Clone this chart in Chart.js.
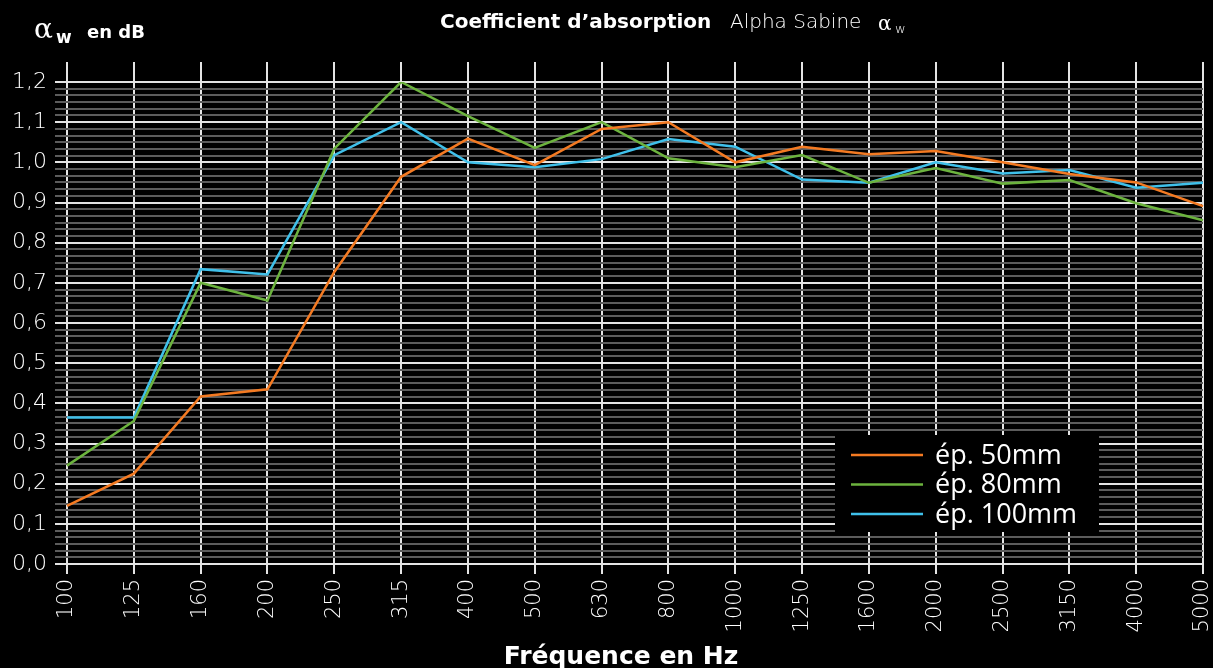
<!DOCTYPE html>
<html>
<head>
<meta charset="utf-8">
<script src="https://cdn.jsdelivr.net/npm/chart.js@4/dist/chart.umd.min.js"></script>
<style>
  body { margin: 0; background: #000; }
  #wrap { width: 1213px; height: 668px; }
</style>
</head>
<body>
<div id="wrap"><canvas id="absorptionChart" width="1213" height="668"></canvas></div>
<script>
// frequencies (Hz)
var frequencies = ['100', '125', '160', '200', '250', '315', '400', '500', '630', '800',
  '1000', '1250', '1600', '2000', '2500', '3150', '4000', '5000'];

// alpha sabine values
var ep50mm = [0.145, 0.225, 0.417, 0.435, 0.727, 0.964, 1.059, 0.993, 1.083, 1.10,
  1.0, 1.039, 1.02, 1.028, 1.0, 0.971, 0.95, 0.891];
var ep80mm = [0.245, 0.356, 0.70, 0.656, 1.034, 1.20, 1.115, 1.036, 1.10, 1.01,
  0.988, 1.018, 0.949, 0.986, 0.947, 0.956, 0.898, 0.856];
var ep100mm = [0.365, 0.365, 0.734, 0.721, 1.018, 1.10, 1.0, 0.988, 1.008, 1.058,
  1.039, 0.957, 0.949, 1.0, 0.972, 0.981, 0.937, 0.949];

var seriesLabels = ['ép. 50mm', 'ép. 80mm', 'ép. 100mm'];
var seriesColors = ['#f47a22', '#6cb33e', '#3fc0ea'];

var yMajorLabels = ['0,0', '0,1', '0,2', '0,3', '0,4', '0,5', '0,6', '0,7', '0,8', '0,9', '1,0', '1,1', '1,2'];

var thinFamily = '"DejaVu Sans ExtraLight", "DejaVu Sans"';
var gridWhite = '#e4e4e4';
var gridGray = '#5c5c5c';

//vertical grid lines go a bit above the plot
var topTicks = {
  id: 'topTicks',
  beforeDatasetsDraw: function(chart) {
    var ctx = chart.ctx;
    var x = chart.scales.x;
    var top = chart.chartArea.top;
    ctx.save();
    ctx.strokeStyle = gridWhite;
    ctx.lineWidth = 2;
    for (var i = 0; i < frequencies.length; i++) {
      var px = Math.round(x.getPixelForValue(i));
      ctx.beginPath();
      ctx.moveTo(px, top - 20);
      ctx.lineTo(px, top);
      ctx.stroke();
    }
    ctx.restore();
  }
};

//titles + legend box
var texts = {
  id: 'texts',
  afterDraw: function(chart) {
    var ctx = chart.ctx;
    ctx.save();
    ctx.fillStyle = '#fff';
    ctx.textBaseline = 'alphabetic';
    ctx.textAlign = 'left';

    // header
    ctx.font = 'bold 20px "DejaVu Sans"';
    ctx.fillText('Coefficient d\u2019absorption', 440, 28);
    ctx.font = '200 20px ' + thinFamily;
    ctx.fillText('Alpha Sabine', 730, 28);
    ctx.font = '20px "DejaVu Serif"';
    ctx.fillText('\u03b1', 878, 30);
    ctx.font = '200 13px ' + thinFamily;
    ctx.fillText('w', 895, 33);

    // y title
    ctx.font = '28px "DejaVu Serif"';
    ctx.fillText('\u03b1', 34, 38);
    ctx.font = 'bold 17px "DejaVu Sans"';
    ctx.fillText('w', 56, 43);
    ctx.font = 'bold 18px "DejaVu Sans"';
    ctx.fillText('en dB', 87, 38);

    // x title
    ctx.textAlign = 'center';
    ctx.font = 'bold 25px "DejaVu Sans"';
    ctx.fillText('Fréquence en Hz', 621, 664);

    // legend
    ctx.fillStyle = '#000';
    ctx.fillRect(835, 435, 264, 97);
    ctx.textAlign = 'left';
    ctx.textBaseline = 'middle';
    ctx.font = '27px "Open Sans"';
    var ds = chart.data.datasets;
    for (var i = 0; i < ds.length; i++) {
      var y = 455 + i * 29.5;
      ctx.strokeStyle = ds[i].borderColor;
      ctx.lineWidth = 2.5;
      ctx.beginPath();
      ctx.moveTo(851, y);
      ctx.lineTo(923, y);
      ctx.stroke();
      ctx.fillStyle = '#fff';
      ctx.fillText(ds[i].label, 935, y + 1);
    }
    ctx.restore();
  }
};

var chart = new Chart(document.getElementById('absorptionChart'), {
  type: 'line',
  data: {
    labels: frequencies,
    datasets: [ep50mm, ep80mm, ep100mm].map(function(d, i) {
      return {
        label: seriesLabels[i],
        data: d,
        borderColor: seriesColors[i],
        backgroundColor: seriesColors[i],
        borderWidth: 2.5,
        pointRadius: 0,
        tension: 0,
        fill: false
      };
    })
  },
  options: {
    responsive: false,
    animation: false,
    devicePixelRatio: 1,
    layout: { padding: { top: 82, right: 10, left: 0, bottom: 0 } },
    plugins: {
      legend: { display: false },
      title: { display: false },
      tooltip: { enabled: false }
    },
    scales: {
      x: {
        offset: false,
        afterFit: function(scale) {
          scale.height = 104;
          scale.paddingLeft = 0;
          scale.paddingRight = 0;
        },
        border: { display: false },
        grid: { color: gridWhite, lineWidth: 2, tickLength: 10 },
        ticks: {
          color: '#fff',
          font: { family: thinFamily, size: 21, weight: '200' },
          minRotation: 90,
          maxRotation: 90,
          autoSkip: false,
          padding: 5
        }
      },
      y: {
        min: 0,
        max: 1.2,
        afterFit: function(scale) {
          scale.width = 67;
          scale.paddingTop = 0;
          scale.paddingBottom = 0;
        },
        border: { display: false },
        grid: {
          lineWidth: 2,
          tickLength: 12,
          color: function(c) {
            return Math.round(c.tick.value * 60) % 6 === 0 ? gridWhite : gridGray;
          }
        },
        ticks: {
          stepSize: 1 / 60,
          autoSkip: false,
          padding: 8,
          color: '#fff',
          font: { family: thinFamily, size: 22, weight: '200' },
          callback: function(value) {
            var n = Math.round(value * 60);
            return n % 6 === 0 ? yMajorLabels[n / 6] : '';
          }
        }
      }
    }
  },
  plugins: [topTicks, texts]
});
</script>
</body>
</html>
